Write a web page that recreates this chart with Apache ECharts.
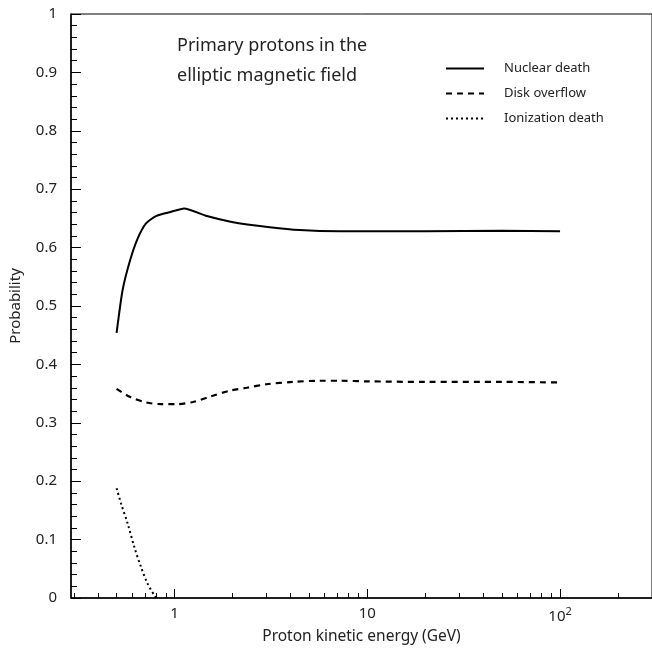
<!DOCTYPE html>
<html>
<head>
<meta charset="utf-8">
<script src="https://cdn.jsdelivr.net/npm/echarts@6/dist/echarts.min.js"></script>
<style>
  html, body { margin: 0; padding: 0; background: #fff; }
  #chart { width: 652px; height: 652px; }
</style>
</head>
<body>
<div id="chart"></div>
<script>
// values (x in GeV, y = probability)
var nuclearX = [0.5, 0.537, 0.586, 0.642, 0.709, 0.8, 0.954, 1.12, 1.47, 1.98, 3.12, 4.46, 7.2, 10, 20, 50, 100]
var nuclearY = [0.454, 0.527, 0.577, 0.615, 0.641, 0.654, 0.661, 0.667, 0.654, 0.644, 0.635, 0.630, 0.628, 0.628, 0.628, 0.629, 0.628]
var diskX = [0.5, 0.59, 0.71, 0.847, 1.03, 1.26, 1.53, 1.94, 2.37, 3.0, 4.12, 5.65, 7.2, 10, 20, 50, 100]
var diskY = [0.358, 0.344, 0.335, 0.332, 0.332, 0.336, 0.345, 0.355, 0.360, 0.366, 0.370, 0.372, 0.372, 0.371, 0.370, 0.370, 0.369]
var ionX = [0.5, 0.527, 0.57, 0.617, 0.668, 0.723, 0.8]
var ionY = [0.188, 0.162, 0.128, 0.088, 0.054, 0.025, 0.0]
var xMajorTicks = [1, 10, 100]
var xMinorTicks = [0.3, 0.4, 0.5, 0.6, 0.7, 0.8, 0.9, 2, 3, 4, 5, 6, 7, 8, 9,
  20, 30, 40, 50, 60, 70, 80, 90, 200, 300]

function pairs(xs, ys) {
  return xs.map(function (x, i) { return [x, ys[i]] })
}

var font = 'Noto Sans'
var chart = echarts.init(document.getElementById('chart'))
var op = {
  backgroundColor: '#fff',
  animation: false,
  textStyle: { fontFamily: font },
  grid: {
    left: 70,
    top: 14,
    width: 585,
    bottom: 54,
    show: true,
    borderColor: '#000',
    borderWidth: 1
  },
  title: {
    text: 'Primary protons in the\nelliptic magnetic field',
    left: 172,
    top: 26,
    textStyle: { fontFamily: font, fontSize: 18, fontWeight: 'normal', color: '#222', lineHeight: 30 }
  },
  legend: {
    orient: 'vertical',
    left: 440,
    top: 57,
    itemWidth: 38,
    itemHeight: 10,
    itemGap: 12,
    itemStyle: { opacity: 0 },
    textStyle: { fontFamily: font, fontSize: 13, color: '#222', padding: [0, 0, 0, 15] },
    data: ['Nuclear death', 'Disk overflow', 'Ionization death']
  },
  xAxis: [
    {
      type: 'log',
      min: 0.29,
      max: 300,
      name: 'Proton kinetic energy (GeV)',
      nameLocation: 'middle',
      nameGap: 30,
      nameTextStyle: { fontFamily: font, fontSize: 15.5, color: '#222' },
      axisLine: { lineStyle: { color: '#000', width: 1.5 } },
      axisTick: { inside: true, length: 9, customValues: xMajorTicks, lineStyle: { color: '#000' } },
      axisLabel: {
        customValues: xMajorTicks,
        margin: 8,
        fontFamily: font,
        fontSize: 15,
        color: '#222',
        formatter: function (v) {
          if (v >= 100) return '10{sup|2}'
          return String(v)
        },
        rich: { sup: { fontSize: 11, verticalAlign: 'top', padding: [0, 0, 10, 0] } }
      },
      splitLine: { show: false }
    },
    {
      type: 'log',
      min: 0.29,
      max: 300,
      position: 'bottom',
      axisLine: { show: false },
      axisTick: { inside: true, length: 5, customValues: xMinorTicks, lineStyle: { color: '#000' } },
      axisLabel: { show: false },
      splitLine: { show: false }
    }
  ],
  yAxis: {
    type: 'value',
    min: 0,
    max: 1,
    interval: 0.1,
    name: 'Probability',
    nameLocation: 'middle',
    nameGap: 48,
    nameTextStyle: { fontFamily: font, fontSize: 15, color: '#222' },
    axisLine: { show: true, lineStyle: { color: '#000', width: 1.5 } },
    axisTick: { inside: true, length: 10, lineStyle: { color: '#000' } },
    minorTick: { show: true, splitNumber: 5, length: 6, lineStyle: { color: '#000' } },
    axisLabel: { margin: 14, fontFamily: font, fontSize: 15, color: '#222' },
    splitLine: { show: false }
  },
  series: [
    {
      name: 'Nuclear death',
      type: 'line',
      data: pairs(nuclearX, nuclearY),
      symbol: 'none',
      smooth: 0.2,
      lineStyle: { color: '#000', width: 2, type: 'solid' },
      itemStyle: { color: '#000' }
    },
    {
      name: 'Disk overflow',
      type: 'line',
      data: pairs(diskX, diskY),
      symbol: 'none',
      smooth: 0.3,
      lineStyle: { color: '#000', width: 2.2, type: [6, 5] },
      itemStyle: { color: '#000' }
    },
    {
      name: 'Ionization death',
      type: 'line',
      data: pairs(ionX, ionY),
      symbol: 'none',
      smooth: 0.3,
      lineStyle: { color: '#000', width: 2, type: [2, 3] },
      itemStyle: { color: '#000' }
    }
  ]
}
chart.setOption(op)
</script>
</body>
</html>
